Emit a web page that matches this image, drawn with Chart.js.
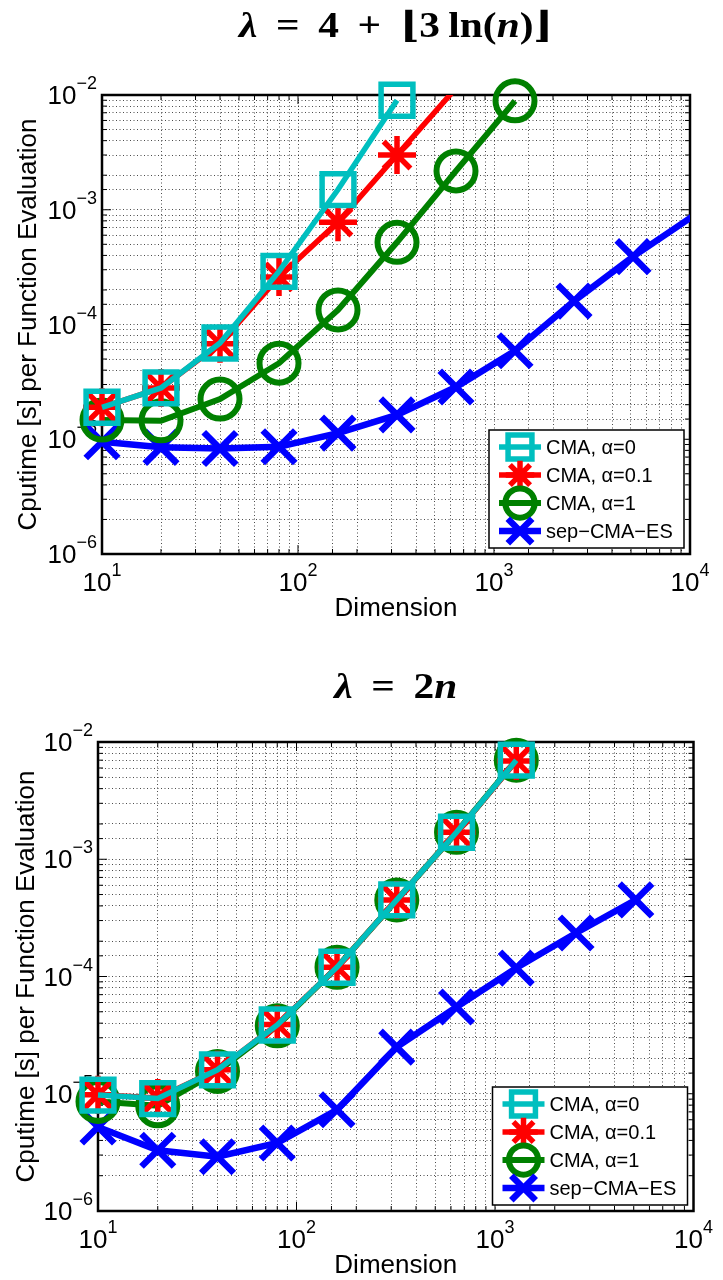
<!DOCTYPE html>
<html>
<head>
<meta charset="utf-8">
<script src="https://cdn.jsdelivr.net/npm/chart.js@4"></script>
<style>
  html, body { margin: 0; padding: 0; background: #fff; }
  canvas { display: block; }
</style>
</head>
<body>
<canvas id="chartLogLambda" width="723" height="640"></canvas>
<canvas id="chartLinLambda" width="723" height="640"></canvas>
<script>
// problem dimensions (x axis)
const dims = [10, 20, 40, 80, 160, 320, 640, 1280, 2560, 5120, 10240];

// lambda = 4 + floor(3 ln n), cputime per f-evaluation
const logCma0 = [1.9e-5, 2.8e-5, 6.9e-5, 2.9e-4, 1.5e-3, 9.0e-3];
const logCma01 = [1.9e-5, 2.8e-5, 6.8e-5, 2.6e-4, 7.8e-4, 3.0e-3, 1.15e-2];
const logCma1 = [1.47e-5, 1.45e-5, 2.24e-5, 4.6e-5, 1.34e-4, 5.2e-4, 2.18e-3, 8.9e-3];
const logSep = [9.5e-6, 8.5e-6, 8.3e-6, 8.6e-6, 1.13e-5, 1.63e-5, 2.85e-5, 5.9e-5, 1.6e-4, 3.9e-4, 8.7e-4];

// lambda = 2n
const linCma0 = [9.75e-6, 9.1e-6, 1.6e-5, 3.86e-5, 1.2e-4, 4.5e-4, 1.7e-3, 7.0e-3];
const linCma01 = [9.8e-6, 9.2e-6, 1.6e-5, 3.9e-5, 1.2e-4, 4.5e-4, 1.7e-3, 6.9e-3];
const linCma1 = [8.6e-6, 7.9e-6, 1.55e-5, 3.8e-5, 1.2e-4, 4.5e-4, 1.7e-3, 7.0e-3];
const linSep = [5.2e-6, 3.3e-6, 2.9e-6, 3.8e-6, 7.3e-6, 2.5e-5, 5.5e-5, 1.18e-4, 2.35e-4, 4.5e-4];

const seriesNames = ['CMA, α=0', 'CMA, α=0.1', 'CMA, α=1', 'sep−CMA−ES'];
const xTickExp = [1, 2, 3, 4];
const yTickExp = [-2, -3, -4, -5, -6];
const xMin = 10, xMax = 10000, yMin = 1e-6, yMax = 1e-2;

const sans = "'Liberation Sans', Arial, sans-serif";
const serif = "'Liberation Serif', 'DejaVu Serif', serif";

// matlab-ish look of the lines
const styles = [
    { color: '#00bfbf', marker: 'rect', radius: 22.5, width: 5.5 },
    { color: '#ff0000', marker: 'star', radius: 19, width: 5.5 },
    { color: '#008000', marker: 'circle', radius: 19.5, width: 6 },
    { color: '#0000ff', marker: 'crossRot', radius: 23, width: 6.5 }
];

function buildDatasets(series) {
    return series.map((vals, i) => ({
        label: seriesNames[i],
        data: vals.map((v, k) => ({ x: dims[k], y: v })),
        borderColor: styles[i].color,
        borderWidth: styles[i].width,
        pointStyle: styles[i].marker,
        // points outside the axes are not drawn (only the line runs out to the edge)
        pointRadius: c => (c.raw && (c.raw.x > xMax || c.raw.y > yMax) ? 0 : styles[i].radius),
        pointBorderWidth: styles[i].width,
        pointBorderColor: styles[i].color,
        pointBackgroundColor: 'rgba(0,0,0,0)',
        tension: 0,
        clip: { left: false, top: i === 1 ? 0 : false, right: i === 3 ? 0 : false, bottom: false }
    }));
}

function isDecade(v) {
    const l = Math.log10(v);
    return Math.abs(l - Math.round(l)) < 1e-6;
}

function drawPower(ctx, exp, x, y, align) {
    // "10" with raised exponent
    const base = '10', sup = (exp < 0 ? '−' : '') + Math.abs(exp);
    ctx.font = '26px ' + sans;
    const wb = ctx.measureText(base).width;
    ctx.font = '18px ' + sans;
    const ws = ctx.measureText(sup).width;
    const left = align === 'right' ? x - wb - ws : x - (wb + ws) / 2;
    ctx.textAlign = 'left';
    ctx.font = '26px ' + sans;
    ctx.fillText(base, left, y);
    ctx.font = '18px ' + sans;
    ctx.fillText(sup, left + wb, y - 15);
}

const matlabLook = {
    id: 'matlabLook',
    beforeDatasetsDraw(chart) {
        const { ctx, chartArea: a, scales: { x, y } } = chart;
        ctx.save();
        ctx.strokeStyle = '#000';
        ctx.lineWidth = 1;
        ctx.beginPath();
        x.ticks.forEach(t => {
            const px = x.getPixelForValue(t.value);
            const len = isDecade(t.value) ? 9 : 5;
            ctx.moveTo(px, a.bottom); ctx.lineTo(px, a.bottom - len);
            ctx.moveTo(px, a.top); ctx.lineTo(px, a.top + len);
        });
        y.ticks.forEach(t => {
            const py = y.getPixelForValue(t.value);
            const len = isDecade(t.value) ? 9 : 5;
            ctx.moveTo(a.left, py); ctx.lineTo(a.left + len, py);
            ctx.moveTo(a.right, py); ctx.lineTo(a.right - len, py);
        });
        ctx.stroke();
        ctx.lineWidth = 2.5;
        ctx.strokeRect(a.left, a.top, a.right - a.left, a.bottom - a.top);

        // tick labels sit under the markers, as in the original figure
        ctx.fillStyle = '#000';
        ctx.textBaseline = 'alphabetic';
        xTickExp.forEach(e => drawPower(ctx, e, x.getPixelForValue(Math.pow(10, e)), a.bottom + 37, 'center'));
        yTickExp.forEach(e => drawPower(ctx, e, a.left - 5, y.getPixelForValue(Math.pow(10, e)) + 9, 'right'));
        ctx.restore();
    },
    afterDatasetsDraw(chart) {
        // legend box in the lower right corner
        const { ctx, chartArea: a } = chart;
        const w = 195, h = 118;
        const left = a.right - 6 - w, top = a.bottom - 6 - h;
        ctx.save();
        ctx.fillStyle = '#fff';
        ctx.fillRect(left, top, w, h);
        ctx.strokeStyle = '#000';
        ctx.lineWidth = 1.5;
        ctx.strokeRect(left, top, w, h);
        chart.data.datasets.forEach((ds, i) => {
            const cy = top + 17 + i * 28;
            ctx.strokeStyle = ds.borderColor;
            ctx.lineWidth = ds.borderWidth;
            ctx.beginPath();
            ctx.moveTo(left + 10, cy);
            ctx.lineTo(left + 52, cy);
            ctx.stroke();
            ctx.fillStyle = 'rgba(0,0,0,0)';
            Chart.helpers.drawPoint(ctx, {
                pointStyle: styles[i].marker,
                radius: styles[i].radius * 0.75,
                borderWidth: styles[i].width,
                rotation: 0
            }, left + 31, cy);
            ctx.fillStyle = '#000';
            ctx.font = '20px ' + sans;
            ctx.textAlign = 'left';
            ctx.textBaseline = 'middle';
            ctx.fillText(ds.label, left + 57, cy + 1);
        });
        ctx.restore();
    },
    afterDraw(chart, args, opts) {
        const { ctx, chartArea: a } = chart;
        ctx.save();
        ctx.fillStyle = '#000';
        ctx.textBaseline = 'alphabetic';

        const cx = (a.left + a.right) / 2;
        ctx.font = '26px ' + sans;
        ctx.textAlign = 'center';
        ctx.fillText(opts.xLabel, cx, a.bottom + 62);

        ctx.save();
        ctx.translate(opts.yLabelX, (a.top + a.bottom) / 2);
        ctx.rotate(-Math.PI / 2);
        ctx.fillText(opts.yLabel, 0, 0);
        ctx.restore();

        // title with math-like pieces, slightly widened like the TeX bold font
        const stretch = 1.15;
        const parts = opts.title.map(p => ({ t: p[0], f: (p[1] === 'bi' ? 'italic bold ' : 'bold ') + '36px ' + serif }));
        let total = 0;
        parts.forEach(p => { ctx.font = p.f; p.w = ctx.measureText(p.t).width; total += p.w; });
        ctx.translate(cx - total * stretch / 2, opts.titleY);
        ctx.scale(stretch, 1);
        ctx.textAlign = 'left';
        let tx = 0;
        parts.forEach(p => { ctx.font = p.f; ctx.fillText(p.t, tx, 0); tx += p.w; });
        ctx.restore();
    }
};

function makeOptions(padding, title, titleY, yLabelX) {
    const axis = (min, max) => ({
        type: 'logarithmic',
        min: min,
        max: max,
        ticks: { display: false },
        grid: { color: 'rgba(0,0,0,0.7)', lineWidth: 1, drawTicks: false },
        border: { display: false, dash: [1, 2.5] }
    });
    return {
        responsive: false,
        animation: false,
        events: [],
        layout: { padding: padding },
        plugins: {
            legend: { display: false },
            tooltip: { enabled: false },
            matlabLook: {
                title: title,
                titleY: titleY,
                xLabel: 'Dimension',
                yLabel: 'Cputime [s] per Function Evaluation',
                yLabelX: yLabelX
            }
        },
        scales: { x: axis(xMin, xMax), y: axis(yMin, yMax) }
    };
}

// Grafik atas: lambda = 4 + floor(3 ln n)
const logCtx = document.getElementById('chartLogLambda').getContext('2d');
const logChart = new Chart(logCtx, {
    type: 'line',
    data: { datasets: buildDatasets([logCma0, logCma01, logCma1, logSep]) },
    options: makeOptions({ left: 102, right: 33, top: 95, bottom: 86 },
        [['λ', 'bi'], ['\u2009 = \u20094\u2009 + \u2009⌊3\u2009ln(', 'b'], ['n', 'bi'], [')⌋', 'b']], 37, 36),
    plugins: [matlabLook]
});

// Grafik bawah: lambda = 2n
const linCtx = document.getElementById('chartLinLambda').getContext('2d');
const linChart = new Chart(linCtx, {
    type: 'line',
    data: { datasets: buildDatasets([linCma0, linCma01, linCma1, linSep]) },
    options: makeOptions({ left: 98, right: 21, top: 102, bottom: 69 },
        [['λ', 'bi'], ['\u2009 = \u20092', 'b'], ['n', 'bi']], 58, 34),
    plugins: [matlabLook]
});
</script>
</body>
</html>
